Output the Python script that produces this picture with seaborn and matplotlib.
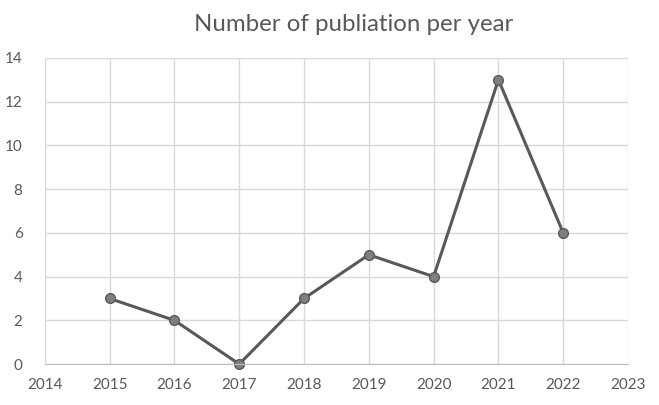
import matplotlib
matplotlib.use("Agg")
import matplotlib.pyplot as plt
import seaborn as sns
import pandas as pd

# data
years = [2015, 2016, 2017, 2018, 2019, 2020, 2021, 2022]
counts = [3, 2, 0, 3, 5, 4, 13, 6]
x_ticks = list(range(2014, 2024))
y_ticks = list(range(0, 15, 2))

df = pd.DataFrame({"year": years, "count": counts})

sns.set_style("white")
plt.rcParams["font.family"] = ["Lato", "DejaVu Sans"]

fig = plt.figure(figsize=(6.59, 4.05), dpi=100)
ax = fig.add_axes([0.068, 0.101, 0.885, 0.756])

sns.lineplot(data=df, x="year", y="count", ax=ax, color="#595959", linewidth=2.2,
             marker="o", markersize=7, markerfacecolor="#7f7f7f",
             markeredgecolor="#595959", markeredgewidth=1)

ax.set_xlim(2014, 2023)
ax.set_ylim(0, 14)
ax.set_xticks(x_ticks)
ax.set_yticks(y_ticks)
ax.grid(True, color="#d9d9d9", linewidth=1)
ax.set_axisbelow(True)
for s in ["top", "right", "left"]:
    ax.spines[s].set_visible(False)
ax.spines["bottom"].set_color("#bfbfbf")
ax.tick_params(axis="x", length=0, labelsize=11, colors="#595959", pad=10)
ax.tick_params(axis="y", length=0, labelsize=11, colors="#595959", pad=16)
ax.set_xlabel("")
ax.set_ylabel("")
for line in ax.lines:
    line.set_clip_on(False)

fig.suptitle("Number of publiation per year", x=0.537, y=0.965, fontsize=17.3,
             color="#595959")

fig.savefig("out.png", dpi=100)
